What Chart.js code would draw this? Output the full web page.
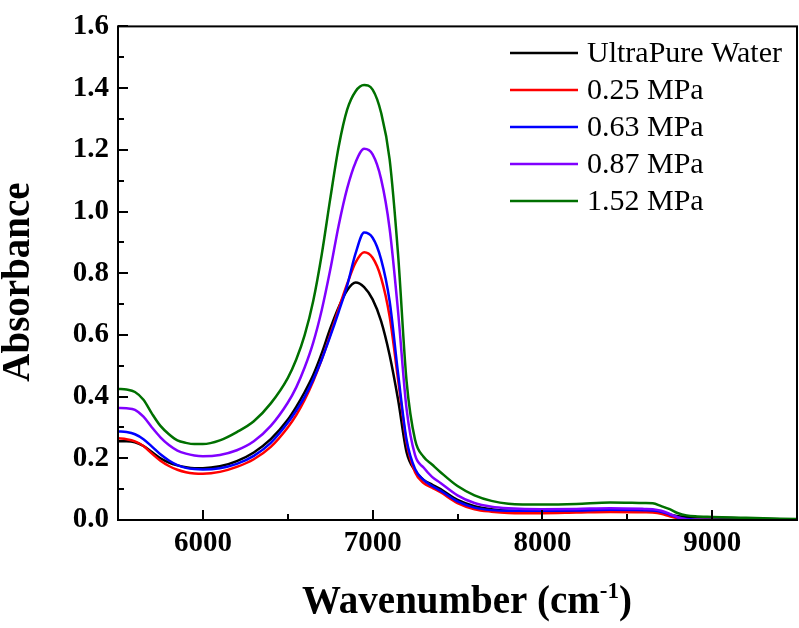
<!DOCTYPE html>
<html>
<head>
<meta charset="utf-8">
<script src="https://cdn.jsdelivr.net/npm/chart.js@4.4.0/dist/chart.umd.min.js"></script>
<style>
html,body{margin:0;padding:0;background:#ffffff;}
#wrap{width:799px;height:628px;position:relative;}
</style>
</head>
<body>
<div id="wrap"><canvas id="c" width="799" height="628"></canvas></div>
<script>
// ---- data ----
const wavenumbers = [5500,5550,5600,5650,5700,5750,5800,5850,5900,5950,6000,6100,6200,6300,6400,6500,6550,6600,6650,6700,6750,6800,6850,6900,6950,7000,7050,7100,7150,7200,7250,7300,7350,7400,7500,7600,7700,7800,8000,8200,8400,8600,8650,8700,8750,8800,8850,8900,9000,9200,9500];

const ultraPureWater = [0.255,0.255,0.252,0.240,0.220,0.200,0.186,0.177,0.171,0.168,0.168,0.174,0.191,0.219,0.262,0.325,0.367,0.415,0.470,0.540,0.620,0.690,0.745,0.770,0.755,0.715,0.645,0.535,0.390,0.220,0.160,0.130,0.115,0.100,0.065,0.045,0.035,0.030,0.028,0.030,0.032,0.030,0.029,0.025,0.018,0.012,0.010,0.009,0.008,0.005,0.001];

const mpa025 = [0.265,0.262,0.255,0.240,0.215,0.192,0.175,0.163,0.155,0.151,0.150,0.156,0.172,0.197,0.237,0.300,0.340,0.390,0.450,0.520,0.600,0.685,0.765,0.835,0.868,0.850,0.785,0.660,0.455,0.250,0.155,0.120,0.105,0.090,0.055,0.035,0.027,0.023,0.022,0.024,0.026,0.025,0.024,0.020,0.012,0.005,0.002,0.001,0.000,0.000,0.000];

const mpa063 = [0.287,0.285,0.278,0.262,0.238,0.213,0.193,0.178,0.169,0.165,0.164,0.168,0.182,0.208,0.250,0.315,0.355,0.400,0.455,0.520,0.595,0.675,0.760,0.865,0.932,0.915,0.845,0.710,0.475,0.260,0.165,0.130,0.110,0.095,0.060,0.040,0.032,0.030,0.030,0.031,0.033,0.032,0.031,0.027,0.018,0.008,0.003,0.001,0.000,0.000,0.000];

const mpa087 = [0.363,0.362,0.357,0.335,0.300,0.268,0.243,0.225,0.215,0.209,0.207,0.211,0.226,0.255,0.305,0.380,0.430,0.495,0.575,0.680,0.810,0.955,1.075,1.160,1.203,1.185,1.105,0.945,0.675,0.360,0.210,0.170,0.140,0.120,0.080,0.055,0.043,0.038,0.035,0.036,0.038,0.036,0.035,0.030,0.020,0.008,0.002,0.000,0.000,0.000,0.000];

const mpa152 = [0.425,0.423,0.415,0.390,0.345,0.305,0.278,0.258,0.250,0.246,0.246,0.258,0.285,0.320,0.378,0.460,0.520,0.600,0.710,0.860,1.040,1.210,1.330,1.390,1.410,1.395,1.320,1.170,0.860,0.450,0.260,0.205,0.180,0.155,0.110,0.080,0.062,0.053,0.050,0.052,0.057,0.055,0.054,0.045,0.035,0.022,0.015,0.012,0.010,0.007,0.003];

const seriesLabels = ['UltraPure Water','0.25 MPa','0.63 MPa','0.87 MPa','1.52 MPa'];
const seriesValues = [ultraPureWater, mpa025, mpa063, mpa087, mpa152];
const seriesColors = ['#000000','#ff0000','#0000ff','#8000ff','#007000'];

const xTickValues = [6000,7000,8000,9000];
const xMinorTickValues = [6500,7500,8500];
const yTickValues = [0.0,0.2,0.4,0.6,0.8,1.0,1.2,1.4,1.6];
const yMinorTickValues = [0.1,0.3,0.5,0.7,0.9,1.1,1.3,1.5];

const yTitleText = 'Absorbance';
const xTitleMain = 'Wavenumber (cm';
const xTitleSup = '-1';
const xTitleEnd = ')';

// ---- chart ----
const SERIF = '"Liberation Serif","Times New Roman",Times,serif';

const framePlugin = {
  id: 'frameTicksTitles',
  afterDatasetsDraw(chart) {
    const ctx = chart.ctx;
    const a = chart.chartArea;
    const xs = chart.scales.x, ys = chart.scales.y;
    ctx.save();
    ctx.strokeStyle = '#000';
    ctx.lineWidth = 2;
    ctx.strokeRect(a.left, a.top, a.right - a.left, a.bottom - a.top);
    ctx.beginPath();
    xTickValues.forEach(v => { const p = Math.round(xs.getPixelForValue(v)); ctx.moveTo(p, a.bottom); ctx.lineTo(p, a.bottom - 10); });
    xMinorTickValues.forEach(v => { const p = Math.round(xs.getPixelForValue(v)); ctx.moveTo(p, a.bottom); ctx.lineTo(p, a.bottom - 6); });
    yTickValues.forEach(v => { const p = Math.round(ys.getPixelForValue(v)); ctx.moveTo(a.left, p); ctx.lineTo(a.left + 10, p); });
    yMinorTickValues.forEach(v => { const p = Math.round(ys.getPixelForValue(v)); ctx.moveTo(a.left, p); ctx.lineTo(a.left + 6, p); });
    ctx.stroke();

    // legend (inside plot, upper right)
    ctx.font = '30px ' + SERIF;
    ctx.textBaseline = 'middle';
    ctx.textAlign = 'left';
    chart.data.datasets.forEach((ds, i) => {
      const y = 53 + 37 * i;
      ctx.strokeStyle = ds.borderColor;
      ctx.lineWidth = 2.5;
      ctx.beginPath();
      ctx.moveTo(510, y);
      ctx.lineTo(578, y);
      ctx.stroke();
      ctx.fillStyle = '#000';
      ctx.fillText(ds.label, 587, y + 1);
    });

    // y title
    ctx.save();
    ctx.translate(29, 282);
    ctx.rotate(-Math.PI / 2);
    ctx.font = 'bold 39px ' + SERIF;
    ctx.textAlign = 'center';
    ctx.textBaseline = 'alphabetic';
    ctx.fillStyle = '#000';
    ctx.fillText(yTitleText, 0, 0);
    ctx.restore();

    // x title with superscript
    ctx.fillStyle = '#000';
    ctx.textBaseline = 'alphabetic';
    ctx.textAlign = 'left';
    const mainFont = 'bold 39px ' + SERIF, supFont = 'bold 23px ' + SERIF;
    ctx.font = mainFont; const w1 = ctx.measureText(xTitleMain).width; const w3 = ctx.measureText(xTitleEnd).width;
    ctx.font = supFont; const w2 = ctx.measureText(xTitleSup).width;
    const total = w1 + w2 + w3;
    let x0 = 467 - total / 2;
    const base = 613;
    ctx.font = mainFont; ctx.fillText(xTitleMain, x0, base);
    ctx.font = supFont; ctx.fillText(xTitleSup, x0 + w1, base - 15);
    ctx.font = mainFont; ctx.fillText(xTitleEnd, x0 + w1 + w2, base);
    ctx.restore();
  }
};

const datasets = seriesValues.map((vals, i) => ({
  label: seriesLabels[i],
  data: wavenumbers.map((w, j) => ({x: w, y: vals[j]})),
  borderColor: seriesColors[i],
  backgroundColor: seriesColors[i],
  borderWidth: 2.5,
  pointRadius: 0,
  fill: false,
  cubicInterpolationMode: 'monotone',
  order: seriesValues.length - i
}));

new Chart(document.getElementById('c'), {
  type: 'line',
  data: { datasets },
  options: {
    responsive: false,
    devicePixelRatio: 1,
    animation: false,
    layout: { padding: { top: 13, right: 2, left: 0, bottom: 0 } },
    plugins: { legend: { display: false }, tooltip: { enabled: false } },
    scales: {
      x: {
        type: 'linear',
        min: 5500, max: 9500,
        afterBuildTicks: s => { s.ticks = xTickValues.map(v => ({value: v})); },
        afterFit: s => { s.height = 108; },
        grid: { display: false, drawTicks: false },
        border: { display: false },
        ticks: {
          color: '#000', padding: 6, maxRotation: 0, autoSkip: false,
          font: { family: SERIF, weight: 'bold', size: 29 },
          callback: v => String(v)
        }
      },
      y: {
        type: 'linear',
        min: 0, max: 1.6,
        afterBuildTicks: s => { s.ticks = yTickValues.map(v => ({value: v})); },
        afterFit: s => { s.width = 118; },
        grid: { display: false, drawTicks: false },
        border: { display: false },
        ticks: {
          color: '#000', padding: 9, autoSkip: false,
          font: { family: SERIF, weight: 'bold', size: 29 },
          callback: v => Number(v).toFixed(1)
        }
      }
    }
  },
  plugins: [framePlugin]
});
</script>
</body>
</html>
